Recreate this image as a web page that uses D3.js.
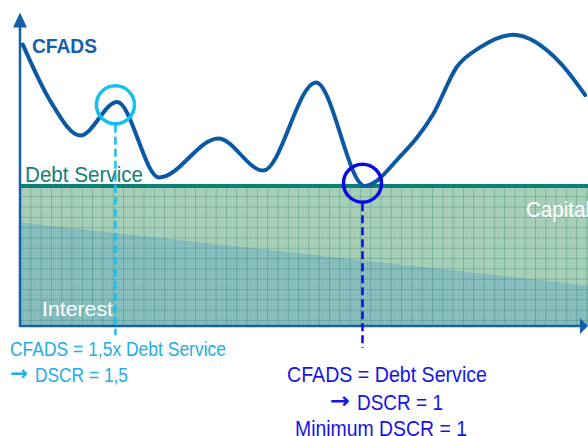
<!DOCTYPE html>
<html>
<head>
<meta charset="utf-8">
<script src="https://cdn.jsdelivr.net/npm/d3@7"></script>
<style>
  body { margin: 0; background: #fff; }
  svg { display: block; }
</style>
</head>
<body>
<script>
// periods along the x axis (0..100), values relative to debt service = 100
const cfadsPeriods = [0.5, 5.3, 10.6, 17.1, 24.5, 34.9, 42.8, 52.1, 60.7, 66.9, 72.7, 76.9, 81, 86.8, 95.1, 99.5];
const cfadsValues  = [201, 161, 136, 160, 106, 134, 111, 174, 100, 121, 151, 185, 199, 208, 188, 165];

const debtPeriods = [0, 100];
const debtValues = [100, 100];
const interestValues = [74, 29];

const markerPeriods = [16.8, 60.3];
const markerValues = [158, 102];

const width = 588,
  height = 436;

// narrow look: Arial metrics squeezed to the width of each label
const font = '"Liberation Sans", Arial, sans-serif';

const x = d3.scaleLinear().domain([0, 100]).range([20, 588]);
const y = d3.scaleLinear().domain([0, 100]).range([326, 186]);

const svg = d3.select('body').append('svg')
  .attr('width', width)
  .attr('height', height)
  .style('font-family', font);

const defs = svg.append('defs');

// grid hatch laid over the debt service areas
const grid = defs.append('pattern')
  .attr('id', 'grid')
  .attr('patternUnits', 'userSpaceOnUse')
  .attr('x', 20).attr('y', 186)
  .attr('width', 10.3).attr('height', 10.3);
grid.append('path')
  .attr('d', 'M0,0H10.3M0,0V10.3')
  .attr('stroke', 'rgba(15,105,85,0.55)')
  .attr('stroke-width', 1);

const dots = defs.append('pattern')
  .attr('id', 'dots')
  .attr('patternUnits', 'userSpaceOnUse')
  .attr('width', 2).attr('height', 2);
dots.append('rect').attr('width', 1).attr('height', 1).attr('fill', 'rgba(255,255,255,0.18)');

const debt = debtPeriods.map((p, i) => ({ p, v: debtValues[i], i: interestValues[i] }));

const area = d3.area()
  .x((d) => x(d.p))
  .y0(y(0));

svg.append('path')
  .datum(debt)
  .attr('d', area.y1((d) => y(d.v)))
  .attr('fill', '#9fcfb3');

svg.append('path')
  .datum(debt)
  .attr('d', area.y1((d) => y(d.i)))
  .attr('fill', '#7bbdbd');

svg.append('path')
  .datum(debt)
  .attr('d', area.y1((d) => y(d.v)))
  .attr('fill', 'url(#dots)');

svg.append('path')
  .datum(debt)
  .attr('d', area.y1((d) => y(d.v)))
  .attr('fill', 'url(#grid)');

// debt service line
svg.append('path')
  .datum(debt)
  .attr('d', d3.line().x((d) => x(d.p)).y((d) => y(d.v)))
  .attr('stroke', '#0e7f78')
  .attr('stroke-width', 4)
  .attr('fill', 'none');

// axes with arrow heads
const axisColor = '#1560ad';
svg.append('line')
  .attr('x1', x(0)).attr('x2', x(100) - 6)
  .attr('y1', y(0)).attr('y2', y(0))
  .attr('stroke', axisColor).attr('stroke-width', 2.5);
svg.append('path')
  .attr('d', `M${x(100)},${y(0)}l-8,-8v16z`)
  .attr('fill', axisColor);
svg.append('line')
  .attr('x1', x(0)).attr('x2', x(0))
  .attr('y1', y(0) + 1).attr('y2', y(224) + 12)
  .attr('stroke', axisColor).attr('stroke-width', 2.5);
svg.append('path')
  .attr('d', `M${x(0)},${y(224)}l-7,15h14z`)
  .attr('fill', axisColor);

// CFADS curve
const cfads = cfadsPeriods.map((p, i) => ({ p, v: cfadsValues[i] }));
svg.append('path')
  .datum(cfads)
  .attr('d', d3.line().curve(d3.curveMonotoneX).x((d) => x(d.p)).y((d) => y(d.v)))
  .attr('stroke', '#0b59a3')
  .attr('stroke-width', 4)
  .attr('stroke-linecap', 'round')
  .attr('fill', 'none');

// DSCR markers
const markerColors = ['#15c0ef', '#0a0ae6'];
const markerEnds = [335, 348];
markerPeriods.forEach((p, i) => {
  const cx = x(p), cy = y(markerValues[i]);
  svg.append('line')
    .attr('x1', cx).attr('x2', cx)
    .attr('y1', cy + 20).attr('y2', markerEnds[i])
    .attr('stroke', markerColors[i])
    .attr('stroke-width', 2.5)
    .attr('stroke-dasharray', '8,4');
  svg.append('circle')
    .attr('cx', cx).attr('cy', cy).attr('r', 19)
    .attr('fill', 'none')
    .attr('stroke', markerColors[i])
    .attr('stroke-width', 3.5);
});

// labels
const label = (t, lx, ly, size, len, color, weight) => svg.append('text')
  .attr('x', lx).attr('y', ly)
  .attr('font-size', size)
  .attr('font-weight', weight || 'normal')
  .attr('textLength', len)
  .attr('lengthAdjust', 'spacingAndGlyphs')
  .attr('fill', color)
  .text(t);

// the bold wingding-like arrow
const arrow = (lx, ly, size, len, color) => label('\u2192', lx, ly, size, len, color, 'bold')
  .style('font-family', '"DejaVu Sans", sans-serif');

label('CFADS', 32, 53, 20, 65, '#1560ad', 'bold');
label('Debt Service', 25, 182, 22, 118, '#117f79');
label('Capital', 526, 217, 22, 64, '#fff');
label('Interest', 42, 316, 21, 71, '#fff');

label('CFADS = 1,5x Debt Service', 10, 356, 20, 216, '#22ade6');
arrow(10, 380, 20, 18, '#22ade6');
label('DSCR = 1,5', 35, 382, 20, 93, '#22ade6');

label('CFADS = Debt Service', 287, 382, 22, 200, '#1414e8');
arrow(330, 408, 22, 20, '#1414e8');
label('DSCR = 1', 357, 410, 22, 86, '#1414e8');
label('Minimum DSCR = 1', 295, 436, 22, 172, '#1414e8');
</script>
</body>
</html>
